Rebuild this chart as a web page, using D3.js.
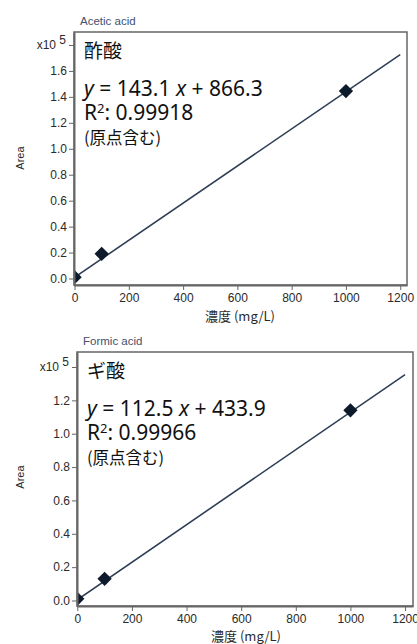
<!DOCTYPE html>
<html>
<head>
<meta charset="utf-8">
<script src="https://cdn.jsdelivr.net/npm/d3@7"></script>
<style>
  body { margin: 0; background: #fff; }
  .axis text { font-family: "Liberation Sans", Arial, sans-serif; font-size: 12px; fill: #2a2a2a; }
  .axis path, .axis line { stroke: #666; }
</style>
</head>
<body>
<svg id="chart1"></svg>
<script>
let w = 417;
let h = 644;

// concentrations (mg/L) and measured peak areas
let concentrations = [0, 100, 1000];
let aceticArea = [1000, 19000, 144500];
let formicArea = [1000, 13000, 114000];

// regression lines shown in the labels
let fitRange = [0, 1200];
let aceticFit = { slope: 143.1, intercept: 866.3, r2: '0.99918' };
let formicFit = { slope: 112.5, intercept: 433.9, r2: '0.99966' };

let xTicks = [0, 200, 400, 600, 800, 1000, 1200];
let aceticYTicks = [0, 0.2, 0.4, 0.6, 0.8, 1.0, 1.2, 1.4, 1.6, 1.8];
let formicYTicks = [0, 0.2, 0.4, 0.6, 0.8, 1.0, 1.2, 1.4];

let svg = d3.select('#chart1').attr('width', w).attr('height', h);

function drawPanel(opt) {
  let g = svg.append('g');
  let xScale = d3.scaleLinear().domain(opt.xDomain).range([opt.left, opt.right]);
  let yScale = d3.scaleLinear().domain(opt.yDomain).range([opt.bottom, opt.top]);

  let clipId = 'clip-' + opt.id;
  g.append('clipPath').attr('id', clipId)
    .append('rect')
    .attr('x', opt.left).attr('y', opt.top)
    .attr('width', opt.right - opt.left).attr('height', opt.bottom - opt.top);

  // frame
  g.append('rect')
    .attr('x', opt.left).attr('y', opt.top)
    .attr('width', opt.right - opt.left).attr('height', opt.bottom - opt.top)
    .attr('fill', 'none').attr('stroke', '#666').attr('stroke-width', 1.5);

  let plot = g.append('g').attr('clip-path', `url(#${clipId})`);

  let lineFunction = d3.line()
    .x(d => xScale(d))
    .y(d => yScale((opt.fit.slope * d + opt.fit.intercept) / 1e5));

  plot.append('path')
    .attr('d', lineFunction(fitRange))
    .attr('stroke', '#2e3f55')
    .attr('stroke-width', 1.6)
    .attr('fill', 'none');

  let diamond = d3.symbol().type(d3.symbolDiamond2).size(130);
  plot.selectAll('path.pt')
    .data(concentrations.map((c, i) => ({ x: c, y: opt.area[i] / 1e5 })))
    .enter()
    .append('path')
    .attr('class', 'pt')
    .attr('d', diamond)
    .attr('transform', d => `translate(${xScale(d.x)},${yScale(d.y)})`)
    .attr('fill', '#0d1a2c');

  // axes
  let xAxis = d3.axisBottom(xScale).tickValues(xTicks).tickSize(5).tickSizeOuter(0).tickPadding(3)
    .tickFormat(d3.format('d'));
  let topTick = opt.yTicks[opt.yTicks.length - 1];
  let yAxis = d3.axisLeft(yScale).tickValues(opt.yTicks).tickSize(5).tickSizeOuter(0).tickPadding(2)
    .tickFormat(d => d === topTick ? '' : d3.format('.1f')(d));

  g.append('g').attr('class', 'axis')
    .attr('transform', `translate(0, ${opt.bottom})`)
    .call(xAxis)
    .call(a => a.select('.domain').attr('stroke-width', 2));

  g.append('g').attr('class', 'axis')
    .attr('transform', `translate(${opt.left}, 0)`)
    .call(yAxis)
    .call(a => a.select('.domain').attr('stroke-width', 2));

  // exponent label at the top tick
  let exp = g.append('text')
    .attr('x', opt.left - 8)
    .attr('y', yScale(topTick) + 4)
    .attr('text-anchor', 'end')
    .style('font-family', '"Liberation Sans", Arial, sans-serif')
    .style('font-size', '12px')
    .attr('fill', '#2a2a2a');
  exp.append('tspan').text('x10 ');
  exp.append('tspan').attr('dy', -5).text('5');

  // titles
  g.append('text')
    .attr('x', opt.left + 6).attr('y', opt.top - 7)
    .style('font-family', '"Liberation Sans", Arial, sans-serif')
    .style('font-size', '11.5px')
    .attr('fill', '#44506e')
    .text(opt.title);

  g.append('text')
    .attr('transform', `translate(24, ${opt.areaY}) rotate(-90)`)
    .attr('text-anchor', 'middle')
    .style('font-family', '"Liberation Sans", Arial, sans-serif')
    .style('font-size', '11px')
    .attr('fill', '#2a2a2a')
    .text('Area');

  g.append('text')
    .attr('x', opt.xLabelX).attr('y', opt.bottom + opt.xLabelDy)
    .attr('text-anchor', 'middle')
    .style('font-family', '"Noto Sans CJK JP", sans-serif')
    .style('font-size', '13px')
    .attr('fill', '#2a2a2a')
    .text('濃度 (mg/L)');

  // annotation
  let ann = g.append('g')
    .style('font-family', '"Noto Sans", "Noto Sans CJK JP", sans-serif')
    .attr('fill', '#111');
  let ax = opt.left + 10;
  ann.append('text').attr('x', ax).attr('y', opt.top + 26)
    .style('font-family', '"Noto Sans CJK JP", sans-serif')
    .style('font-size', '19px').text(opt.name);
  let eq = ann.append('text').attr('x', ax).attr('y', opt.top + 64)
    .style('font-size', '21px');
  eq.append('tspan').style('font-style', 'italic').text('y');
  eq.append('tspan').text(` = ${opt.fit.slope.toFixed(1)} `);
  eq.append('tspan').style('font-style', 'italic').text('x');
  eq.append('tspan').text(` + ${opt.fit.intercept.toFixed(1)}`);
  let r2 = ann.append('text').attr('x', ax).attr('y', opt.top + 88)
    .style('font-size', '21px');
  r2.append('tspan').text('R');
  r2.append('tspan').attr('dy', -7).style('font-size', '13px').text('2');
  r2.append('tspan').attr('dy', 7).text(': ' + opt.fit.r2);
  ann.append('text').attr('x', ax).attr('y', opt.top + 112)
    .style('font-family', '"Noto Sans CJK JP", sans-serif')
    .style('font-size', '16.5px').text('(原点含む)');
}

drawPanel({
  id: 'acetic', title: 'Acetic acid', name: '酢酸',
  area: aceticArea, fit: aceticFit, yTicks: aceticYTicks,
  xDomain: [-2, 1225], yDomain: [-0.05, 1.9],
  left: 74, right: 407, top: 32, bottom: 285,
  areaY: 158, xLabelX: 240, xLabelDy: 36
});

drawPanel({
  id: 'formic', title: 'Formic acid', name: 'ギ酸',
  area: formicArea, fit: formicFit, yTicks: formicYTicks,
  xDomain: [-1, 1229], yDomain: [-0.033, 1.49],
  left: 77, right: 413, top: 352, bottom: 606,
  areaY: 477, xLabelX: 246, xLabelDy: 35
});
</script>
</body>
</html>
